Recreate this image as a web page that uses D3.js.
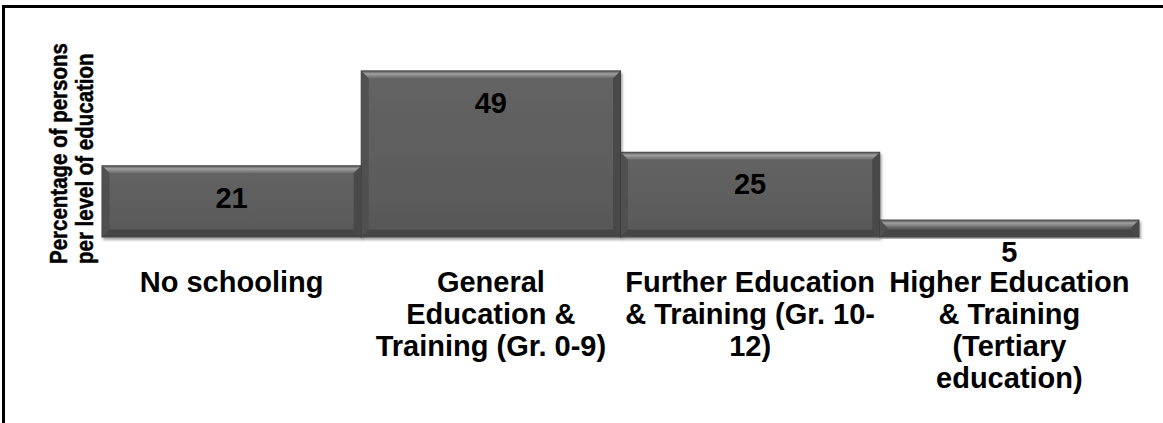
<!DOCTYPE html>
<html>
<head>
<meta charset="utf-8">
<script src="https://cdn.jsdelivr.net/npm/d3@7/dist/d3.min.js"></script>
<style>
  html, body { margin: 0; padding: 0; background: #fff; }
  svg { display: block; }
  text { font-family: "Liberation Sans", Arial, sans-serif; font-weight: bold; fill: #000; }
</style>
</head>
<body>
<svg id="chart" width="1163" height="423"></svg>
<script>
// ---- data ----
const categories = [
  "No schooling",
  "General Education & Training (Gr. 0-9)",
  "Further Education & Training (Gr. 10-12)",
  "Higher Education & Training (Tertiary education)"
];
const categoryLines = [
  ["No schooling"],
  ["General", "Education &", "Training (Gr. 0-9)"],
  ["Further Education", "& Training (Gr. 10-", "12)"],
  ["Higher Education", "& Training", "(Tertiary", "education)"]
];
const values = [21, 49, 25, 5];
const yTitleLines = ["Percentage of persons", "per level of education"];
const yDomain = [0, 50];

// ---- layout ----
const W = 1163, H = 423;
const plot = { left: 102, right: 1139, top: 67.5, bottom: 237 };

const svg = d3.select("#chart");

const defs = svg.append("defs");
const grad = defs.append("linearGradient").attr("id", "barFill")
  .attr("x1", 0).attr("y1", 0).attr("x2", 0).attr("y2", 1);
grad.append("stop").attr("offset", "0%").attr("stop-color", "#646464");
grad.append("stop").attr("offset", "100%").attr("stop-color", "#585858");

const topGrad = defs.append("linearGradient").attr("id", "topBevel")
  .attr("x1", 0).attr("y1", 0).attr("x2", 0).attr("y2", 1);
topGrad.append("stop").attr("offset", "0%").attr("stop-color", "#5e5e5e");
topGrad.append("stop").attr("offset", "35%").attr("stop-color", "#a0a0a0");
topGrad.append("stop").attr("offset", "100%").attr("stop-color", "#686868");

const shadow = defs.append("filter").attr("id", "shadow")
  .attr("x", "-5%").attr("y", "-5%").attr("width", "110%").attr("height", "115%");
shadow.append("feDropShadow").attr("dx", 1.5).attr("dy", 2.5)
  .attr("stdDeviation", 1.2).attr("flood-color", "#000").attr("flood-opacity", 0.35);

// frame
svg.append("path")
  .attr("d", `M3.5,${H} V6.5 H${W}`)
  .attr("fill", "none").attr("stroke", "#000").attr("stroke-width", 3);

const x = d3.scaleBand().domain(categories).range([plot.left, plot.right]).padding(0);
const y = d3.scaleLinear().domain(yDomain).range([plot.bottom, plot.top]);

const data = categories.map((c, i) => ({ c, v: values[i], lines: categoryLines[i] }));

const bev = 7;
const bars = svg.append("g").selectAll("g.bar").data(data).join("g").attr("class", "bar");

bars.append("rect")
  .attr("x", d => x(d.c))
  .attr("y", d => y(d.v))
  .attr("width", x.bandwidth())
  .attr("height", d => y(0) - y(d.v))
  .attr("fill", "url(#barFill)")
  .attr("stroke", "#3c3c3c").attr("stroke-width", 1)
  .attr("filter", "url(#shadow)");

function bevelPolys(d) {
  const x0 = x(d.c) + 0.5, x1 = x(d.c) + x.bandwidth() - 0.5;
  const y0 = y(d.v) + 0.5, y1 = y(0) - 0.5;
  const b = Math.min(bev, (y1 - y0) / 2);
  return [
    { pts: [[x0, y0], [x1, y0], [x1 - b, y0 + b], [x0 + b, y0 + b]], fill: "url(#topBevel)" },
    { pts: [[x0, y0], [x0 + b, y0 + b], [x0 + b, y1 - b], [x0, y1]], fill: "#505050" },
    { pts: [[x1, y0], [x1, y1], [x1 - b, y1 - b], [x1 - b, y0 + b]], fill: "#494949" },
    { pts: [[x0, y1], [x0 + b, y1 - b], [x1 - b, y1 - b], [x1, y1]], fill: "#464646" }
  ];
}
bars.selectAll("polygon").data(d => bevelPolys(d)).join("polygon")
  .attr("points", p => p.pts.map(q => q.join(",")).join(" "))
  .attr("fill", p => p.fill);

// value labels
svg.append("g").selectAll("text").data(data).join("text")
  .attr("x", d => x(d.c) + x.bandwidth() / 2)
  .attr("y", d => y(d.v) + 42)
  .attr("text-anchor", "middle")
  .style("font-size", "29px")
  .text(d => d.v);

// category labels
const catG = svg.append("g").selectAll("text").data(data).join("text")
  .attr("text-anchor", "middle")
  .style("font-size", "29px");
catG.selectAll("tspan").data(d => d.lines.map(l => ({ l, cx: x(d.c) + x.bandwidth() / 2 })))
  .join("tspan")
  .attr("x", t => t.cx)
  .attr("y", (t, i) => 291.5 + i * 32)
  .text(t => t.l);

// y axis title
const tg = svg.append("g").attr("transform", "translate(0,264) rotate(-90)");
tg.selectAll("text").data(yTitleLines).join("text")
  .attr("transform", (d, i) => `translate(0,${[67, 93][i]}) scale(1,1.2)`)
  .attr("text-anchor", "start")
  .style("font-size", "20.5px")
  .attr("stroke", "#000").attr("stroke-width", 0.4)
  .text(d => d);
</script>
</body>
</html>
